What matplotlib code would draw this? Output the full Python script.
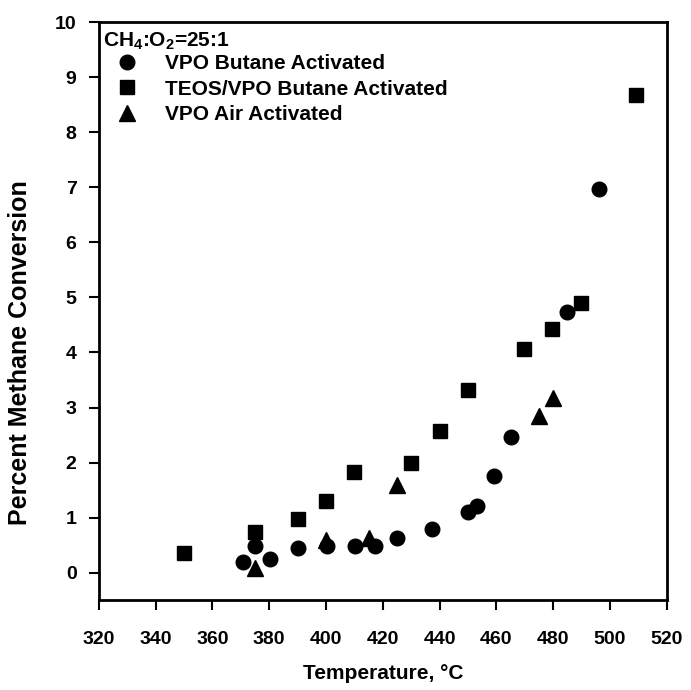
import matplotlib
matplotlib.use("Agg")
import matplotlib.pyplot as plt

plt.rcParams['font.family'] = ['Liberation Sans', 'DejaVu Sans']
plt.rcParams['font.weight'] = 'bold'
plt.rcParams['axes.labelweight'] = 'bold'
plt.rcParams['mathtext.default'] = 'regular'

# ----------------------------
# Data
# ----------------------------
vpo_butane_t = [370.7, 374.9, 380.2, 390.1, 400.3, 410.1, 417.2, 424.9, 437.2,
                449.9, 453.1, 459.1, 465.1, 484.8, 496.1]
vpo_butane_y = [0.20, 0.49, 0.25, 0.45, 0.49, 0.49, 0.49, 0.63, 0.79,
                1.11, 1.22, 1.76, 2.47, 4.73, 6.96]

teos_t = [349.9, 374.9, 390.0, 399.9, 409.9, 430.1, 440.1, 449.9, 469.7,
          479.6, 489.7, 509.1]
teos_y = [0.36, 0.74, 0.98, 1.31, 1.83, 2.00, 2.58, 3.31, 4.07,
          4.43, 4.90, 8.67]

vpo_air_t = [374.9, 400.0, 415.0, 425.0, 474.9, 479.9]
vpo_air_y = [0.08, 0.60, 0.63, 1.60, 2.84, 3.18]

x_ticks = list(range(320, 521, 20))
y_ticks = list(range(0, 11))

# ----------------------------
# Plot
# ----------------------------
fig = plt.figure(figsize=(6.91, 6.90), dpi=100)
ax = fig.add_axes([0.143, 0.130, 0.822, 0.838])

ax.plot(vpo_butane_t, vpo_butane_y, 'o', color='black', markersize=10.5,
        linestyle='none', label='VPO Butane Activated')
ax.plot(teos_t, teos_y, 's', color='black', markersize=9.5,
        linestyle='none', label='TEOS/VPO Butane Activated')
ax.plot(vpo_air_t, vpo_air_y, '^', color='black', markersize=11,
        linestyle='none', label='VPO Air Activated')

ax.set_xlim(320, 520)
ax.set_ylim(-0.5, 10)
ax.set_xticks(x_ticks)
ax.set_yticks(y_ticks)
ax.tick_params(direction='out', length=7, width=1.5, labelsize=14)
ax.tick_params(axis='x', pad=15)
ax.tick_params(axis='y', pad=9)
for s in ax.spines.values():
    s.set_linewidth(2)

ax.set_xlabel('Temperature, °C', fontsize=15)
ax.set_ylabel('Percent Methane Conversion', fontsize=18)
ax.xaxis.set_label_coords(0.5, -0.111)
ax.yaxis.set_label_coords(-0.118, 0.429)

# legend title as separate text so it can sit close to the first row
ax.text(0.007, 0.958, r'CH$_4$:O$_2$=25:1', transform=ax.transAxes,
        fontsize=15, va='baseline', ha='left')
leg = ax.legend(loc='upper left', bbox_to_anchor=(0.007, 0.944),
                frameon=False, fontsize=15, handletextpad=0.67,
                handlelength=2.3, labelspacing=0.3,
                borderaxespad=0, borderpad=0)

plt.savefig("out.png", dpi=100)
